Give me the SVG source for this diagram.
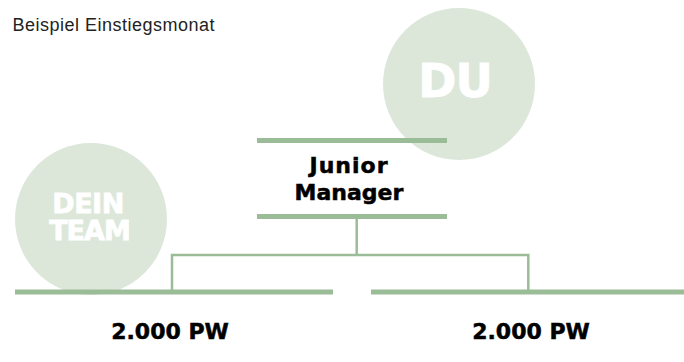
<svg xmlns="http://www.w3.org/2000/svg" width="684" height="362" viewBox="0 0 684 362">
<style>
.bar{stroke:#9abd98;stroke-width:5;fill:none}
.conn{stroke:#9abd98;stroke-width:2.5;fill:none}
.circ{fill:#dce7da}
.big{font-family:"DejaVu Sans",sans-serif;font-weight:bold;fill:#ffffff;stroke:#ffffff;stroke-width:0.8;text-anchor:middle}
.lbl{font-family:"DejaVu Sans",sans-serif;font-weight:bold;fill:#000000;stroke:#000000;stroke-width:0.5;text-anchor:middle;font-size:22px}
</style>
<rect width="684" height="362" fill="#ffffff"/>
<text x="12.5" y="31" font-family="Liberation Sans, Arial, sans-serif" font-size="18" letter-spacing="0.5" fill="#222222">Beispiel Einstiegsmonat</text>
<g id="du">
<circle class="circ" cx="459" cy="84" r="76"/>
<text class="big" x="455" y="97" font-size="46" letter-spacing="-1">DU</text>
</g>
<g id="dein-team">
<circle class="circ" cx="91" cy="219" r="76"/>
<text class="big" x="88" y="213" font-size="27" letter-spacing="-0.5">DEIN</text>
<text class="big" x="89.5" y="240" font-size="27" letter-spacing="-1">TEAM</text>
</g>
<g id="connectors">
<path class="conn" d="M356.7 219V255M172 292V255H528.3V292"/>
</g>
<g id="junior-manager">
<line class="bar" x1="257" y1="140.5" x2="447" y2="140.5"/>
<line class="bar" x1="257" y1="216.5" x2="447" y2="216.5"/>
<text class="lbl" x="349" y="173" letter-spacing="1">Junior</text>
<text class="lbl" x="349" y="200">Manager</text>
</g>
<g id="team-left">
<line class="bar" x1="15" y1="292" x2="333" y2="292"/>
<text class="lbl" x="170" y="339">2.000 PW</text>
</g>
<g id="team-right">
<line class="bar" x1="371" y1="292" x2="684" y2="292"/>
<text class="lbl" x="531" y="339">2.000 PW</text>
</g>
</svg>
